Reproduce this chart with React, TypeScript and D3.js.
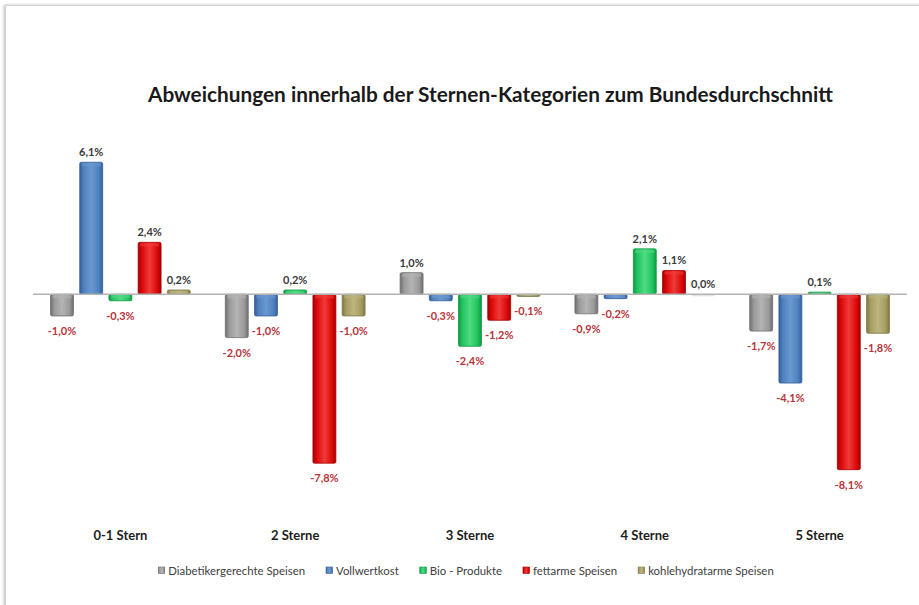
import React, { useEffect, useRef } from "react";
import * as d3 from "d3";

const categories = ["0-1 Stern", "2 Sterne", "3 Sterne", "4 Sterne", "5 Sterne"];
const seriesNames = [
  "Diabetikergerechte Speisen",
  "Vollwertkost",
  "Bio - Produkte",
  "fettarme Speisen",
  "kohlehydratarme Speisen",
];
const diabetiker = [-1.0, -2.0, 1.0, -0.9, -1.7];
const vollwert = [6.1, -1.0, -0.3, -0.2, -4.1];
const bio = [-0.3, 0.2, -2.4, 2.1, 0.1];
const fettarm = [2.4, -7.8, -1.2, 1.1, -8.1];
const kohlehydrat = [0.2, -1.0, -0.1, 0.0, -1.8];
const seriesValues = [diabetiker, vollwert, bio, fettarm, kohlehydrat];
const title = "Abweichungen innerhalb der Sternen-Kategorien zum Bundesdurchschnitt";

const colors = [
  { mid: "#9a9a9a", edge: "#6f6f6f", light: "#b4b4b4" },
  { mid: "#4f82c0", edge: "#34609a", light: "#6a98d0" },
  { mid: "#22c55e", edge: "#0f9944", light: "#4fdb84" },
  { mid: "#dc0a0a", edge: "#a80000", light: "#f03a3a" },
  { mid: "#a59d62", edge: "#7f7845", light: "#bdb57c" },
];

const W = 919;
const H = 605;
const FONT = "Lato, 'Liberation Sans', sans-serif";

export default function App() {
  const ref = useRef<SVGSVGElement>(null);

  useEffect(() => {
    const svg = d3.select(ref.current);
    svg.selectAll("*").remove();

    const defs = svg.append("defs");
    colors.forEach((c, i) => {
      const g = defs
        .append("linearGradient")
        .attr("id", "grad" + i)
        .attr("x1", "0")
        .attr("x2", "1")
        .attr("y1", "0")
        .attr("y2", "0");
      g.append("stop").attr("offset", "0%").attr("stop-color", c.edge);
      g.append("stop").attr("offset", "18%").attr("stop-color", c.mid);
      g.append("stop").attr("offset", "50%").attr("stop-color", c.light);
      g.append("stop").attr("offset", "82%").attr("stop-color", c.mid);
      g.append("stop").attr("offset", "100%").attr("stop-color", c.edge);
    });
    const sh = defs.append("filter").attr("id", "frameShadow").attr("x", "-5%").attr("y", "-5%").attr("width", "110%").attr("height", "110%");
    sh.append("feDropShadow").attr("dx", -1).attr("dy", 0).attr("stdDeviation", 1.5).attr("flood-color", "#888").attr("flood-opacity", 0.6);

    // background + frame
    svg.append("rect").attr("width", W).attr("height", H).attr("fill", "#ffffff");
    svg
      .append("rect")
      .attr("x", 5.5)
      .attr("y", 5.5)
      .attr("width", 930)
      .attr("height", 620)
      .attr("fill", "#fff")
      .attr("stroke", "#d4d4d4")
      .attr("stroke-width", 1)
      .attr("filter", "url(#frameShadow)");

    // title
    svg
      .append("text")
      .attr("x", 490.5)
      .attr("y", 102)
      .attr("text-anchor", "middle")
      .attr("font-family", FONT)
      .attr("font-weight", "bold")
      .attr("font-size", 20.8)
      .attr("fill", "#1a1a1a")
      .text(title);

    const x0 = d3.scaleBand<string>().domain(categories).range([33, 907]).padding(0);
    const x1 = d3
      .scaleBand<number>()
      .domain(d3.range(seriesNames.length))
      .range([0, x0.bandwidth()])
      .paddingInner(0.215)
      .paddingOuter(0.6);
    const y = d3.scaleLinear().domain([-9, 7]).range([294.3 + 9 * 21.65, 294.3 - 7 * 21.65]);

    // bars
    const gBars = svg.append("g");
    seriesValues.forEach((vals, si) => {
      vals.forEach((v, ci) => {
        const bx = (x0(categories[ci]) as number) + (x1(si) as number);
        const y0 = y(0);
        const yv = y(v);
        const top = Math.min(y0, yv);
        const h = Math.abs(yv - y0);
        if (h < 0.5) {
          gBars
            .append("rect")
            .attr("x", bx)
            .attr("y", y0)
            .attr("width", x1.bandwidth())
            .attr("height", 2)
            .attr("fill", "#e4e4e4");
        } else {
          gBars
            .append("rect")
            .attr("x", bx)
            .attr("y", top)
            .attr("width", x1.bandwidth())
            .attr("height", h)
            .attr("rx", 1.5)
            .attr("fill", `url(#grad${si})`)
            .attr("stroke", colors[si].edge)
            .attr("stroke-width", 0.8);
          gBars
            .append("rect")
            .attr("x", bx + 2)
            .attr("y", top + 1)
            .attr("width", x1.bandwidth() - 4)
            .attr("height", Math.min(3, Math.max(h - 2, 0)))
            .attr("fill", colors[si].light)
            .attr("opacity", 0.6);
        }
      });
    });

    // zero line
    svg
      .append("line")
      .attr("x1", 33)
      .attr("x2", 907)
      .attr("y1", y(0))
      .attr("y2", y(0))
      .attr("stroke", "#b3b3b3")
      .attr("stroke-width", 1.5);

    // value labels
    const fmt = (v: number) => v.toFixed(1).replace(".", ",") + "%";
    seriesValues.forEach((vals, si) => {
      vals.forEach((v, ci) => {
        const cx = (x0(categories[ci]) as number) + (x1(si) as number) + x1.bandwidth() / 2;
        const neg = v < 0;
        svg
          .append("text")
          .attr("x", cx)
          .attr("y", neg ? y(v) + 19 : y(v) - 6)
          .attr("text-anchor", "middle")
          .attr("font-family", FONT)
          .attr("font-weight", "bold")
          .attr("font-size", 11)
          .attr("fill", neg ? "#b8343a" : "#3a3a3a")
          .text(fmt(v));
      });
    });

    // category labels
    categories.forEach((c) => {
      svg
        .append("text")
        .attr("x", (x0(c) as number) + x0.bandwidth() / 2)
        .attr("y", 540)
        .attr("text-anchor", "middle")
        .attr("font-family", FONT)
        .attr("font-weight", "bold")
        .attr("font-size", 13)
        .attr("fill", "#1e1e1e")
        .text(c);
    });

    // legend
    const legend = svg.append("g");
    const items: { g: any; w: number }[] = [];
    seriesNames.forEach((n, i) => {
      const g = legend.append("g");
      g.append("rect")
        .attr("x", 0)
        .attr("y", -8)
        .attr("width", 6.5)
        .attr("height", 6.5)
        .attr("fill", `url(#grad${i})`)
        .attr("stroke", colors[i].edge)
        .attr("stroke-width", 0.6);
      const t = g
        .append("text")
        .attr("x", 10)
        .attr("y", 0)
        .attr("font-family", FONT)
        .attr("font-size", 11.4)
        .attr("fill", "#404040")
        .text(n);
      const w = 10 + (t.node() as SVGTextElement).getComputedTextLength();
      items.push({ g, w });
    });
    const gap = 21;
    const total = d3.sum(items, (d) => d.w) + gap * (items.length - 1);
    let lx = 466 - total / 2;
    items.forEach((it) => {
      it.g.attr("transform", `translate(${lx},575)`);
      lx += it.w + gap;
    });
  }, []);

  return (
    <svg
      ref={ref}
      width={W}
      height={H}
      style={{ position: "absolute", left: 0, top: 0, display: "block" }}
    />
  );
}
